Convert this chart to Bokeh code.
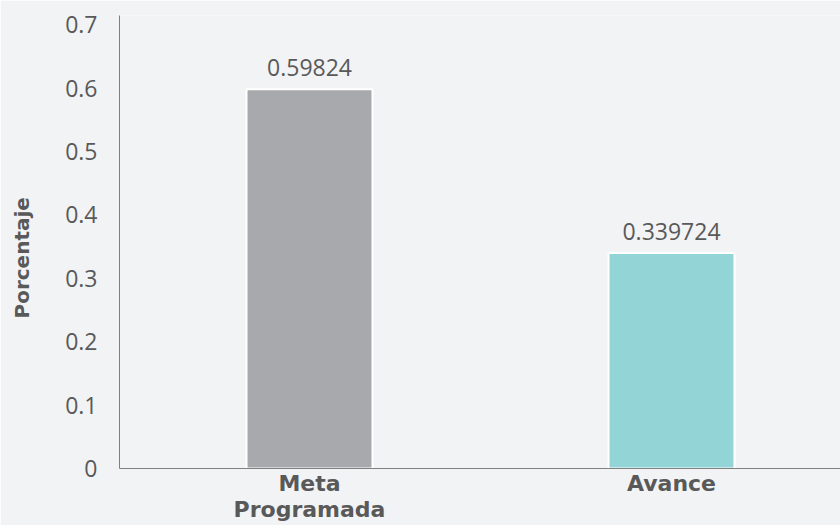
from bokeh.plotting import figure
from bokeh.models import ColumnDataSource, Range1d, FixedTicker, LabelSet, Title, LinearAxis
from bokeh.core.properties import value
from bokeh.embed import file_html
from bokeh.resources import INLINE

# ---- data ----
categories = ["Meta\nProgramada", "Avance"]
values = [0.59824, 0.339724]
value_labels = ["0.59824", "0.339724"]
bar_colors = ["#a8a9ac", "#93d5d6"]
y_ticks = [0, 0.1, 0.2, 0.3, 0.4, 0.5, 0.6, 0.7]
y_tick_labels = ["0", "0.1", "0.2", "0.3", "0.4", "0.5", "0.6", "0.7"]
y_title = "Porcentaje"

BG = "#f2f3f5"
TXT = "#595959"
FONT = "Open Sans"
BOLD_FONT = "DejaVu Sans"

xpos = [i + 0.5 for i in range(len(categories))]
src = ColumnDataSource(dict(x=xpos, top=values, color=bar_colors, label=value_labels))

p = figure(width=840, height=525, output_backend="svg", toolbar_location=None,
           x_range=Range1d(-0.0249, 1.9669), y_range=Range1d(0, 0.7145),
           min_border_left=119, min_border_right=0, min_border_top=15, min_border_bottom=57,
           background_fill_color=BG, border_fill_color=BG, outline_line_color=None)
p.grid.visible = False

p.vbar(x="x", top="top", bottom=0, width=0.348, fill_color="color",
       line_color="white", line_width=2, source=src)

# y axis
ya = p.yaxis[0]
ya.ticker = FixedTicker(ticks=y_ticks, minor_ticks=[])
ya.major_label_overrides = {t: l for t, l in zip(y_ticks, y_tick_labels)}
ya.major_tick_out = 0
ya.major_tick_in = 0
ya.minor_tick_out = 0
ya.major_label_standoff = 22
ya.major_label_text_font = FONT
ya.major_label_text_font_size = "23px"
ya.major_label_text_color = TXT
ya.axis_line_color = "#808080"
ya.axis_line_width = 1

# invisible spacer between the tick labels and the axis title
spacer = LinearAxis(ticker=FixedTicker(ticks=[y_ticks[0]], minor_ticks=[]),
                    major_tick_out=29, major_tick_in=0, minor_tick_out=0,
                    major_label_standoff=0, major_label_overrides={y_ticks[0]: ""},
                    axis_line_color=None, major_tick_line_color=None,
                    minor_tick_line_color=None)
p.add_layout(spacer, "left")

# x axis with category labels
xa = p.xaxis[0]
xa.ticker = FixedTicker(ticks=xpos, minor_ticks=[])
xa.major_label_overrides = {t: c for t, c in zip(xpos, categories)}
xa.major_tick_out = 0
xa.major_tick_in = 0
xa.minor_tick_out = 0
xa.major_label_standoff = 2
xa.major_label_text_font = BOLD_FONT
xa.major_label_text_font_style = "bold"
xa.major_label_text_font_size = "22px"
xa.major_label_text_line_height = 1.05
xa.major_label_text_color = TXT
xa.axis_line_color = "#808080"
xa.axis_line_width = 1

val_labels = LabelSet(x="x", y="top", text="label", source=src, y_offset=13,
                      text_align="center", text_baseline="alphabetic",
                      text_font=value(FONT), text_font_size="23px", text_color=TXT)
p.add_layout(val_labels)

ytitle = Title(text=y_title, align="left", offset=150, standoff=0,
               text_font=BOLD_FONT, text_font_style="bold", text_font_size="20px",
               text_color=TXT)
p.add_layout(ytitle, "left")

html = file_html(p, INLINE)
html = html.replace("<body>", '<body style="background-color:%s;">' % BG, 1)
open("out.html", "w").write(html)
